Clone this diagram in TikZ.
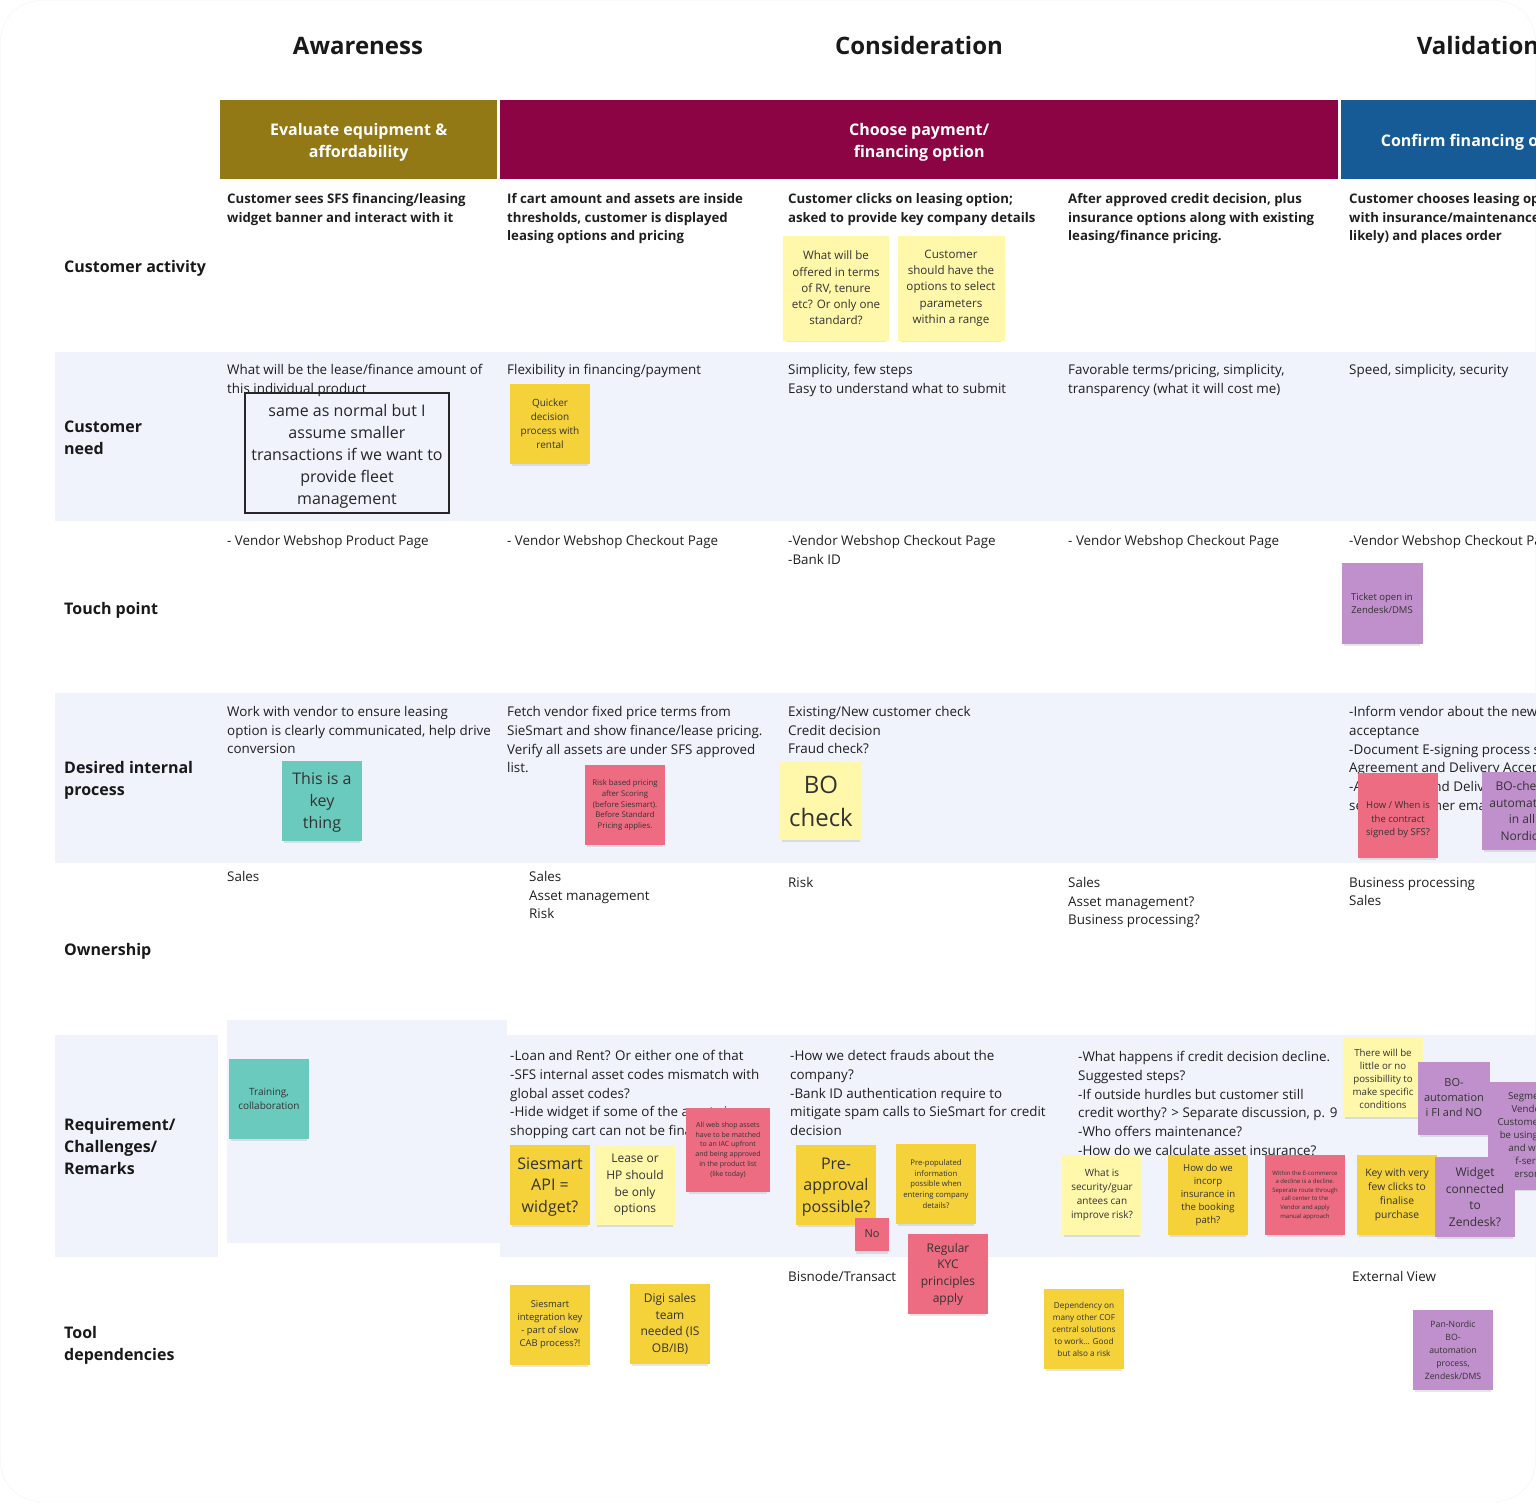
\documentclass[tikz,border=0pt]{standalone}
\usepackage{fontspec}
\setmainfont{Open Sans}
\usetikzlibrary{shadows}

\newcommand\fsz[2]{\fontsize{#1}{#2}\selectfont}
\newcommand\padtop[1]{\rule{0pt}{#1}}

\begin{document}
\begin{tikzpicture}[x=1pt, y=-1pt,
    celltext/.style={anchor=north west, inner sep=0pt, align=left, text=black!88, font=\fsz{13.4}{18.8}},
    activity/.style={celltext, font=\fsz{13.2}{18.8}\bfseries},
    rowlabel/.style={anchor=north west, inner sep=0pt, align=left, text=black!90, font=\fsz{16}{22}\bfseries},
    phasetitle/.style={anchor=base, inner sep=0pt, text=black!90, font=\fsz{24}{28}\bfseries},
    phasebar/.style={anchor=north west, inner sep=0pt, minimum height=79pt, align=center, text=white, font=\fsz{16}{22}\bfseries},
    band/.style={fill=bandcol, draw=none},
    sticky/.style={rectangle, draw=none, inner sep=0pt, minimum width=80pt, minimum height=80pt,
        align=center, text=black!80,
        drop shadow={shadow xshift=0pt, shadow yshift=-5pt, shadow scale=0.94, opacity=0.2}},
    lightnote/.style={sticky, fill=notelight},
    yellownote/.style={sticky, fill=noteyellow},
    pinknote/.style={sticky, fill=notepink},
    purplenote/.style={sticky, fill=notepurple},
    tealnote/.style={sticky, fill=noteteal},
]
    % Colori delle fasi e dei post-it
    \definecolor{barolive}{RGB}{146,121,22}
    \definecolor{barwine}{RGB}{140,4,68}
    \definecolor{barblue}{RGB}{22,90,150}
    \definecolor{bandcol}{RGB}{240,242,252}
    \definecolor{notelight}{RGB}{255,247,170}
    \definecolor{noteyellow}{RGB}{245,210,58}
    \definecolor{notepink}{RGB}{238,108,130}
    \definecolor{notepurple}{RGB}{192,144,204}
    \definecolor{noteteal}{RGB}{106,202,190}

    \useasboundingbox (0,0) rectangle (1536,1502);
    \clip (0,0) rectangle (1536,1502);
    \draw[black!5, rounded corners=40pt] (0.5,0.5) rectangle (1535.5,1501.5);

    % Fasce di sfondo delle righe
    \fill[band] (55,352) rectangle (1536,521);
    \fill[band] (55,693) rectangle (1536,863);
    \fill[band] (55,1035) rectangle (218,1257);
    \fill[band] (227,1020) rectangle (507,1243);
    \fill[band] (500,1035) rectangle (1536,1257);

    % Titoli delle fasi
    \node[phasetitle] (tAware) at (358,54) {Awareness};
    \node[phasetitle] (tConsider) at (919,54) {Consideration};
    \node[phasetitle] (tValid) at (1478,54) {Validation};

    % Barre colorate
    \node[phasebar, fill=barolive, minimum width=277pt] (barAware) at (220,100) {\padtop{18pt}Evaluate equipment \&\\affordability};
    \node[phasebar, fill=barwine, minimum width=838pt] (barChoose) at (500,100) {\padtop{18pt}Choose payment/\\financing option};
    \node[phasebar, fill=barblue, minimum width=279pt] (barConfirm) at (1341,100) {\padtop{18pt}Confirm financing option};

    % Etichette delle righe
    \node[rowlabel] (lblActivity) at (64,260) {Customer activity};
    \node[rowlabel] (lblNeed) at (64,420.5) {Customer\\need};
    \node[rowlabel] (lblTouch) at (64,602) {Touch point};
    \node[rowlabel] (lblProcess) at (64,761) {Desired internal\\process};
    \node[rowlabel] (lblOwner) at (64,943) {Ownership};
    \node[rowlabel] (lblReq) at (64,1118) {Requirement/\\Challenges/\\Remarks};
    \node[rowlabel] (lblTool) at (64,1326) {Tool\\dependencies};

    % Customer activity
    \node[activity] (act1) at (227,193) {Customer sees SFS financing/leasing\\widget banner and interact with it};
    \node[activity] (act2) at (507,193) {If cart amount and assets are inside\\thresholds, customer is displayed\\leasing options and pricing};
    \node[activity] (act3) at (788,193) {Customer clicks on leasing option;\\asked to provide key company details};
    \node[activity] (act4) at (1068,193) {After approved credit decision, plus\\insurance options along with existing\\leasing/finance pricing.};
    \node[activity] (act5) at (1349,193) {Customer chooses leasing option (most\\with insurance/maintenance (most\\likely) and places order};
    \node[lightnote, minimum width=106pt, minimum height=105pt, font=\fsz{11.6}{16.3}] (noteRV) at (836,288) {What will be\\offered in terms\\of RV, tenure\\etc? Or only one\\standard?};
    \node[lightnote, minimum width=107pt, minimum height=105pt, font=\fsz{11.6}{16.3}] (noteRange) at (951,288) {Customer\\should have the\\options to select\\parameters\\within a range};

    % Customer need
    \node[celltext] (need1) at (227,364) {What will be the lease/finance amount of\\this individual product};
    \node[celltext] (need2) at (507,364) {Flexibility in financing/payment};
    \node[celltext] (need3) at (788,364) {Simplicity, few steps\\Easy to understand what to submit};
    \node[celltext] (need4) at (1068,364) {Favorable terms/pricing, simplicity,\\transparency (what it will cost me)};
    \node[celltext] (need5) at (1349,364) {Speed, simplicity, security};
    \node[draw=black!85, line width=1.2pt, minimum width=204pt, minimum height=120pt, align=center,
        text=black!85, font=\fsz{16}{22}] (noteFleet) at (347,453) {\padtop{18pt}same as normal but I\\assume smaller\\transactions if we want to\\provide fleet\\management};
    \node[yellownote, font=\fsz{10}{14}] (noteQuick) at (550,424) {Quicker\\decision\\process with\\rental};

    % Touch point
    \node[celltext] (touch1) at (227,535) {- Vendor Webshop Product Page};
    \node[celltext] (touch2) at (507,535) {- Vendor Webshop Checkout Page};
    \node[celltext] (touch3) at (788,535) {-Vendor Webshop Checkout Page\\-Bank ID};
    \node[celltext] (touch4) at (1068,535) {- Vendor Webshop Checkout Page};
    \node[celltext] (touch5) at (1349,535) {-Vendor Webshop Checkout Page};
    \node[purplenote, minimum width=81pt, minimum height=81pt, font=\fsz{9.5}{13}] (noteTicket) at (1382,603) {Ticket open in\\Zendesk/DMS};

    % Desired internal process
    \node[celltext] (proc1) at (227,706) {Work with vendor to ensure leasing\\option is clearly communicated, help drive\\conversion};
    \node[celltext] (proc2) at (507,706) {Fetch vendor fixed price terms from\\SieSmart and show finance/lease pricing.\\Verify all assets are under SFS approved\\list.};
    \node[celltext] (proc3) at (788,706) {Existing/New customer check\\Credit decision\\Fraud check?};
    \node[celltext] (proc5) at (1349,706) {-Inform vendor about the new credit\\acceptance\\-Document E-signing process so\\Agreement and Delivery Acceptance\\-Agreement and Delivery\\sent to customer email};
    \node[tealnote, font=\fsz{16}{22}] (noteKey) at (322,801) {\padtop{15pt}This is a\\key\\thing};
    \node[pinknote, font=\fsz{7.8}{10.7}] (noteRisk) at (625,805) {Risk based pricing\\after Scoring\\(before Siesmart).\\Before Standard\\Pricing applies.};
    \node[lightnote, minimum width=82pt, minimum height=78pt, font=\fsz{24}{33}] (noteBO) at (821,801) {BO\\check};
    \node[pinknote, minimum height=85pt, font=\fsz{9.5}{13.5}] (noteSigned) at (1398,815) {\padtop{17pt}How / When is\\the contract\\signed by SFS?};
    \node[purplenote, minimum height=78pt, font=\fsz{12}{16.5}] (noteBOcheck) at (1522,811) {BO-check\\automation\\in all\\Nordics};

    % Ownership
    \node[celltext] (own1) at (227,871) {Sales};
    \node[celltext] (own2) at (529,871) {Sales\\Asset management\\Risk};
    \node[celltext] (own3) at (788,877) {Risk};
    \node[celltext] (own4) at (1068,877) {Sales\\Asset management?\\Business processing?};
    \node[celltext] (own5) at (1349,877) {Business processing\\Sales};

    % Requirement / Challenges / Remarks
    \node[tealnote, font=\fsz{10}{14}] (noteTraining) at (269,1099) {Training,\\collaboration};
    \node[celltext] (req2) at (510,1050) {-Loan and Rent? Or either one of that\\-SFS internal asset codes mismatch with\\global asset codes?\\-Hide widget if some of the assets in\\shopping cart can not be financed};
    \node[celltext] (req3) at (790,1050) {-How we detect frauds about the\\company?\\-Bank ID authentication require to\\mitigate spam calls to SieSmart for credit\\decision};
    \node[celltext] (req4) at (1078,1051) {-What happens if credit decision decline.\\Suggested steps?\\-If outside hurdles but customer still\\credit worthy? > Separate discussion, p. 9\\-Who offers maintenance?\\-How do we calculate asset insurance?};
    \node[yellownote, font=\fsz{16}{21.5}] (noteAPI) at (550,1185) {\padtop{15pt}Siesmart\\API =\\widget?};
    \node[lightnote, font=\fsz{12}{16.7}] (noteLease) at (635,1185) {Lease or\\HP should\\be only\\options};
    \node[pinknote, minimum width=84pt, minimum height=84pt, font=\fsz{7}{9.7}] (noteIAC) at (728,1150) {All web shop assets\\have to be matched\\to an IAC upfront\\and being approved\\in the product list\\(like today)};
    \node[yellownote, font=\fsz{16}{21.5}] (notePre) at (836,1185) {\padtop{15pt}Pre-\\approval\\possible?};
    \node[pinknote, minimum width=34pt, minimum height=33pt, font=\fsz{11}{14}] (noteNo) at (872,1234) {No};
    \node[yellownote, font=\fsz{7.7}{10.7}] (notePopulated) at (936,1184) {Pre-populated\\information\\possible when\\entering company\\details?};
    \node[pinknote, font=\fsz{12}{16.7}] (noteKYC) at (948,1274) {Regular\\KYC\\principles\\apply};
    \node[lightnote, font=\fsz{10}{14}] (noteSecurity) at (1102,1195) {What is\\security/guar\\antees can\\improve risk?};
    \node[yellownote, font=\fsz{9.6}{13}] (noteInsurance) at (1208,1195) {How do we\\incorp\\insurance in\\the booking\\path?};
    \node[pinknote, font=\fsz{6}{8.6}] (noteDecline) at (1305,1195) {Within the E-commerce\\a decline is a decline.\\Seperate route through\\call center to the\\Vendor and apply\\manual approach};
    \node[lightnote, font=\fsz{9.7}{13}] (noteConditions) at (1383,1077) {\padtop{11pt}There will be\\little or no\\possibillity to\\make specific\\conditions};
    \node[purplenote, minimum height=108pt, font=\fsz{9.7}{13}] (noteSegment) at (1528,1136) {Segment\\Vendor\\Customers to\\be using self\\and who\\self-service\\personal};
    \node[purplenote, minimum width=72pt, minimum height=73pt, font=\fsz{11}{15}] (noteBOauto) at (1454,1098) {BO-\\automation\\i FI and NO};
    \node[yellownote, font=\fsz{10.3}{14}] (noteClicks) at (1397,1195) {Key with very\\few clicks to\\finalise\\purchase};
    \node[purplenote, font=\fsz{12}{16.5}] (noteWidget) at (1475,1197) {Widget\\connected\\to\\Zendesk?};

    % Tool dependencies
    \node[celltext] (tool3) at (788,1271) {Bisnode/Transact};
    \node[celltext] (tool5) at (1352,1271) {External View};
    \node[yellownote, font=\fsz{9.4}{13}] (noteCAB) at (550,1325) {Siesmart\\integration key\\- part of slow\\CAB process?!};
    \node[yellownote, font=\fsz{12}{16.7}] (noteDigi) at (670,1324) {Digi sales\\team\\needed (IS\\OB/IB)};
    \node[yellownote, font=\fsz{8.2}{12}] (noteCOF) at (1084,1329) {Dependency on\\many other COF\\central solutions\\to work... Good\\but also a risk};
    \node[purplenote, font=\fsz{8.7}{13}] (notePan) at (1453,1350) {Pan-Nordic\\BO-\\automation\\process,\\Zendesk/DMS};

\end{tikzpicture}
\end{document}
